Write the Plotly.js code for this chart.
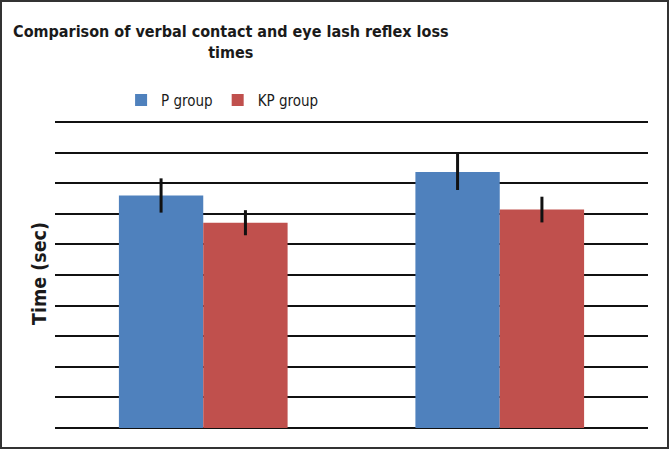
<!DOCTYPE html>
<html>
<head>
<meta charset="utf-8">
<script src="https://cdn.plot.ly/plotly-3.0.1.min.js"></script>
<style>
html,body{margin:0;padding:0;background:#fff;}
#wrap{position:relative;width:669px;height:449px;}
#chart{width:669px;height:449px;}
#frame{position:absolute;left:0;top:0;width:669px;height:449px;box-sizing:border-box;border:2px solid #333;pointer-events:none;}
</style>
</head>
<body>
<div id="wrap"><div id="chart"></div><div id="frame"></div></div>
<script>
// Data (gridline units, no tick labels in the original)
const categories = ["Verbal contact loss", "Eye lash reflex loss"];
const seriesNames = ["P group", "KP group"];
const pValues = [7.6, 8.37];
const kpValues = [6.71, 7.14];
const pErrors = [0.56, 0.59];
const kpErrors = [0.41, 0.42];

const FONT = '"DejaVu Sans Condensed", "Liberation Sans", Arial, sans-serif';

const traces = [
  {
    type: 'bar', name: seriesNames[0], x: categories, y: pValues,
    marker: {color: '#4F81BD', line: {width: 0}},
    error_y: {type: 'data', array: pErrors, visible: true, color: '#111', thickness: 3, width: 0}
  },
  {
    type: 'bar', name: seriesNames[1], x: categories, y: kpValues,
    marker: {color: '#C0504D', line: {width: 0}},
    error_y: {type: 'data', array: kpErrors, visible: true, color: '#111', thickness: 3, width: 0}
  }
];

const layout = {
  width: 669, height: 449,
  paper_bgcolor: '#fff', plot_bgcolor: '#fff',
  margin: {l: 55, r: 21, t: 119, b: 21, pad: 0},
  font: {family: FONT, color: '#1a1a1a'},
  title: {
    text: '<b>Comparison of verbal contact and eye lash reflex loss<br>times</b>',
    font: {family: FONT, size: 16, color: '#1a1a1a'},
    x: 0.345, xref: 'container', xanchor: 'center',
    y: 0.918, yref: 'container', yanchor: 'middle'
  },
  barmode: 'group', bargap: 0.431, bargroupgap: 0,
  showlegend: true,
  legend: {
    orientation: 'h', x: 0.181, xref: 'container', xanchor: 'left',
    y: 0.777, yref: 'container', yanchor: 'middle',
    font: {family: FONT, size: 15, color: '#1a1a1a'},
    bgcolor: 'rgba(0,0,0,0)', traceorder: 'normal'
  },
  xaxis: {
    showticklabels: false, showgrid: false, zeroline: false, showline: false, ticks: ''
  },
  yaxis: {
    range: [0, 10.1], dtick: 1, tick0: 0,
    showticklabels: false, ticks: '',
    showgrid: true, gridcolor: '#111', gridwidth: 2,
    zeroline: true, zerolinecolor: '#111', zerolinewidth: 2,
    showline: false,
    title: {text: '<b>Time (sec)</b>', font: {family: FONT, size: 19.5, color: '#1a1a1a'}, standoff: 2}
  }
};

Plotly.newPlot('chart', traces, layout, {displayModeBar: false, staticPlot: true});
</script>
</body>
</html>
